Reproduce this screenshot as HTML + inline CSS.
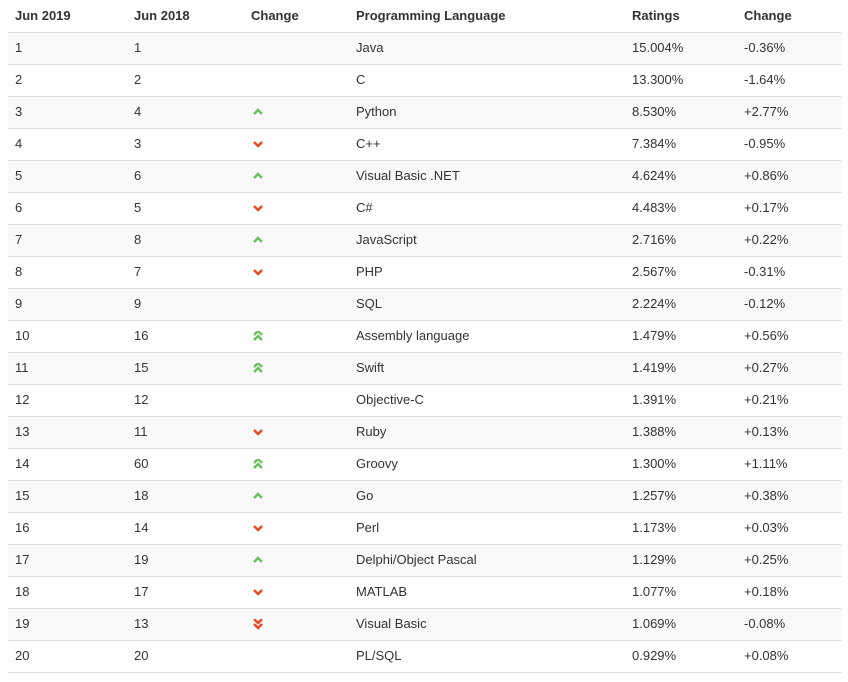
<!DOCTYPE html>
<html><head><meta charset="utf-8"><style>
body{margin:0;width:848px;height:682px;background:#fff;font-family:"Liberation Sans",Arial,sans-serif;font-size:13px;color:#333;position:relative;overflow:hidden}
.row{position:absolute;left:8px;width:834px;height:31px;border-top:1px solid #ddd}
.c{position:absolute;top:-1px;line-height:31px;white-space:nowrap}
.h{position:absolute;top:0;height:32px;line-height:31px;font-weight:bold;color:#333}
svg{position:absolute}
</style></head><body>
<div>
<div class="h" style="left:15px">Jun 2019</div>
<div class="h" style="left:134px">Jun 2018</div>
<div class="h" style="left:251px">Change</div>
<div class="h" style="left:356px">Programming Language</div>
<div class="h" style="left:632px">Ratings</div>
<div class="h" style="left:744px">Change</div>
</div>
<div id="body"></div>
<script>
const ranks2018=[1,2,4,3,6,5,8,7,9,16,15,12,11,60,18,14,19,17,13,20];
const languages=["Java","C","Python","C++","Visual Basic .NET","C#","JavaScript","PHP","SQL","Assembly language","Swift","Objective-C","Ruby","Groovy","Go","Perl","Delphi/Object Pascal","MATLAB","Visual Basic","PL/SQL"];
const ratings=["15.004%","13.300%","8.530%","7.384%","4.624%","4.483%","2.716%","2.567%","2.224%","1.479%","1.419%","1.391%","1.388%","1.300%","1.257%","1.173%","1.129%","1.077%","1.069%","0.929%"];
const changes=["-0.36%","-1.64%","+2.77%","-0.95%","+0.86%","+0.17%","+0.22%","-0.31%","-0.12%","+0.56%","+0.27%","+0.21%","+0.13%","+1.11%","+0.38%","+0.03%","+0.25%","+0.18%","-0.08%","+0.08%"];
const body=document.getElementById('body');
function chev(up,y){return up?`<polyline points="1,${y+4} 5,${y} 9,${y+4}" fill="none" stroke-width="2.4"/>`:`<polyline points="1,${y} 5,${y+4} 9,${y}" fill="none" stroke-width="2.4"/>`;}
for(let i=0;i<languages.length;i++){
  const r=document.createElement('div');
  r.className='row';
  r.style.top=(32+i*32)+'px';
  if(i%2===0) r.style.background='#f9f9f9';
  
  
  const rank=i+1, prev=ranks2018[i], diff=prev-rank;
  let icon='';
  if(diff!==0){
    const up=diff>0, big=Math.abs(diff)>=4;
    const col=up?'#6cbf5f':'#e14b26';
    const inner=big?chev(up,0)+chev(up,5):chev(up,2);
    icon=`<svg width="10" height="11" style="left:245px;top:${big?10:11}px" stroke="${col}">${inner}</svg>`;
  }
  r.innerHTML=`<div class="c" style="left:7px">${rank}</div><div class="c" style="left:126px">${prev}</div>${icon}<div class="c" style="left:348px">${languages[i]}</div><div class="c" style="left:624px">${ratings[i]}</div><div class="c" style="left:736px">${changes[i]}</div>`;
  body.appendChild(r);
}
const b=document.createElement('div');
b.className='row';
b.style.top=(32+languages.length*32)+'px';
b.style.height='0';


body.appendChild(b);
</script>
</body></html>
